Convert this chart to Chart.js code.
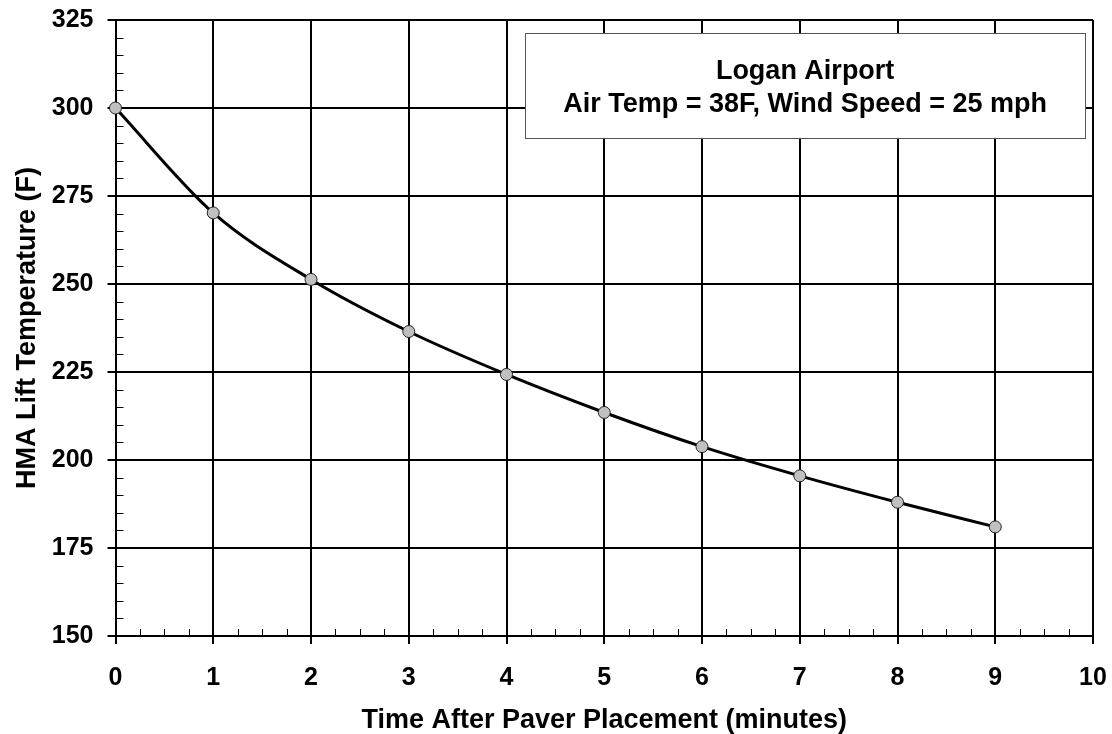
<!DOCTYPE html>
<html>
<head>
<meta charset="utf-8">
<script src="https://cdn.jsdelivr.net/npm/chart.js@4.4.1/dist/chart.umd.min.js"></script>
<style>
  html, body { margin: 0; padding: 0; background: #fff; }
  #wrap { width: 1112px; height: 734px; position: relative; }
</style>
</head>
<body>
<div id="wrap"><canvas id="coolingChart"></canvas></div>
<script>
// Werte
const timeMinutes = [0, 1, 2, 3, 4, 5, 6, 7, 8, 9];
const liftTemp = [300, 270.2, 251.3, 236.5, 224.3, 213.5, 203.8, 195.5, 188, 181];
const noteLines = ['Logan Airport', 'Air Temp = 38F, Wind Speed = 25 mph'];
const xTitle = 'Time After Paver Placement (minutes)';
const yTitle = 'HMA Lift Temperature (F)';

const FONT = 'Arial, "Liberation Sans", Helvetica, sans-serif';

// kleine Striche nach innen (Nebenteilung)
const minorTicks = {
    id: 'minorTicks',
    afterDatasetsDraw(chart) {
        const { ctx, chartArea, scales } = chart;
        ctx.save();
        ctx.strokeStyle = '#000';
        ctx.lineWidth = 1;
        for (let v = 150; v <= 325; v += 5) {
            if (v % 25 === 0) continue;
            const y = Math.round(scales.y.getPixelForValue(v)) + 0.5;
            ctx.beginPath();
            ctx.moveTo(chartArea.left, y);
            ctx.lineTo(chartArea.left + 8, y);
            ctx.stroke();
        }
        for (let v = 0; v <= 10; v += 0.25) {
            if (Math.abs(v - Math.round(v)) < 1e-6) continue;
            const x = Math.round(scales.x.getPixelForValue(v)) + 0.5;
            ctx.beginPath();
            ctx.moveTo(x, chartArea.bottom);
            ctx.lineTo(x, chartArea.bottom - 7);
            ctx.stroke();
        }
        ctx.restore();
    }
};

// Textfeld oben rechts
const noteBox = {
    id: 'noteBox',
    afterDatasetsDraw(chart) {
        const { ctx, scales } = chart;
        const x1 = scales.x.getPixelForValue(4.19);
        const x2 = scales.x.getPixelForValue(9.92);
        const y1 = scales.y.getPixelForValue(321.3);
        const y2 = scales.y.getPixelForValue(291.5);
        ctx.save();
        ctx.fillStyle = '#fff';
        ctx.fillRect(x1, y1, x2 - x1, y2 - y1);
        ctx.strokeStyle = '#555';
        ctx.lineWidth = 1;
        ctx.strokeRect(Math.round(x1) + 0.5, Math.round(y1) + 0.5, Math.round(x2 - x1), Math.round(y2 - y1));
        ctx.fillStyle = '#000';
        ctx.font = 'bold 27px ' + FONT;
        ctx.textAlign = 'center';
        ctx.textBaseline = 'middle';
        const cx = (x1 + x2) / 2;
        ctx.fillText(noteLines[0], cx, y1 + 39);
        ctx.fillText(noteLines[1], cx, y1 + 72);
        ctx.restore();
    }
};

new Chart(document.getElementById('coolingChart'), {
    type: 'line',
    data: {
        datasets: [{
            data: timeMinutes.map((t, i) => ({ x: t, y: liftTemp[i] })),
            borderColor: '#000',
            borderWidth: 3,
            cubicInterpolationMode: 'monotone',
            pointRadius: 6,
            pointBackgroundColor: '#c0c0c0',
            pointBorderColor: '#222',
            pointBorderWidth: 1,
            clip: false,
            fill: false
        }]
    },
    options: {
        responsive: true,
        maintainAspectRatio: false,
        animation: false,
        layout: { padding: 0 },
        plugins: {
            legend: { display: false },
            tooltip: { enabled: false }
        },
        scales: {
            x: {
                type: 'linear',
                min: 0,
                max: 10,
                afterFit: (scale) => {
                    scale.height = 98;
                    scale.paddingRight = 19; // Platz rechts fuer "10"
                    scale.paddingLeft = 0;
                },
                ticks: {
                    stepSize: 1,
                    color: '#000',
                    padding: 19,
                    font: { family: FONT, size: 25, weight: 'bold' }
                },
                grid: { color: '#000', lineWidth: 2, tickLength: 8 },
                border: { color: '#000', width: 2 },
                title: {
                    display: true,
                    text: xTitle,
                    color: '#000',
                    padding: { top: 0, bottom: -3 },
                    font: { family: FONT, size: 27, weight: 'bold' }
                }
            },
            y: {
                min: 150,
                max: 325,
                afterFit: (scale) => {
                    scale.width = 115.5;
                    scale.paddingTop = 20; // Platz oben fuer "325"
                    scale.paddingBottom = 0;
                },
                ticks: {
                    stepSize: 25,
                    color: '#000',
                    padding: 14,
                    font: { family: FONT, size: 25, weight: 'bold' }
                },
                grid: { color: '#000', lineWidth: 2, tickLength: 8 },
                border: { color: '#000', width: 2 },
                title: {
                    display: true,
                    text: yTitle,
                    color: '#000',
                    padding: { top: 11, bottom: 0 },
                    font: { family: FONT, size: 27, weight: 'bold' }
                }
            }
        }
    },
    plugins: [minorTicks, noteBox]
});
</script>
</body>
</html>
